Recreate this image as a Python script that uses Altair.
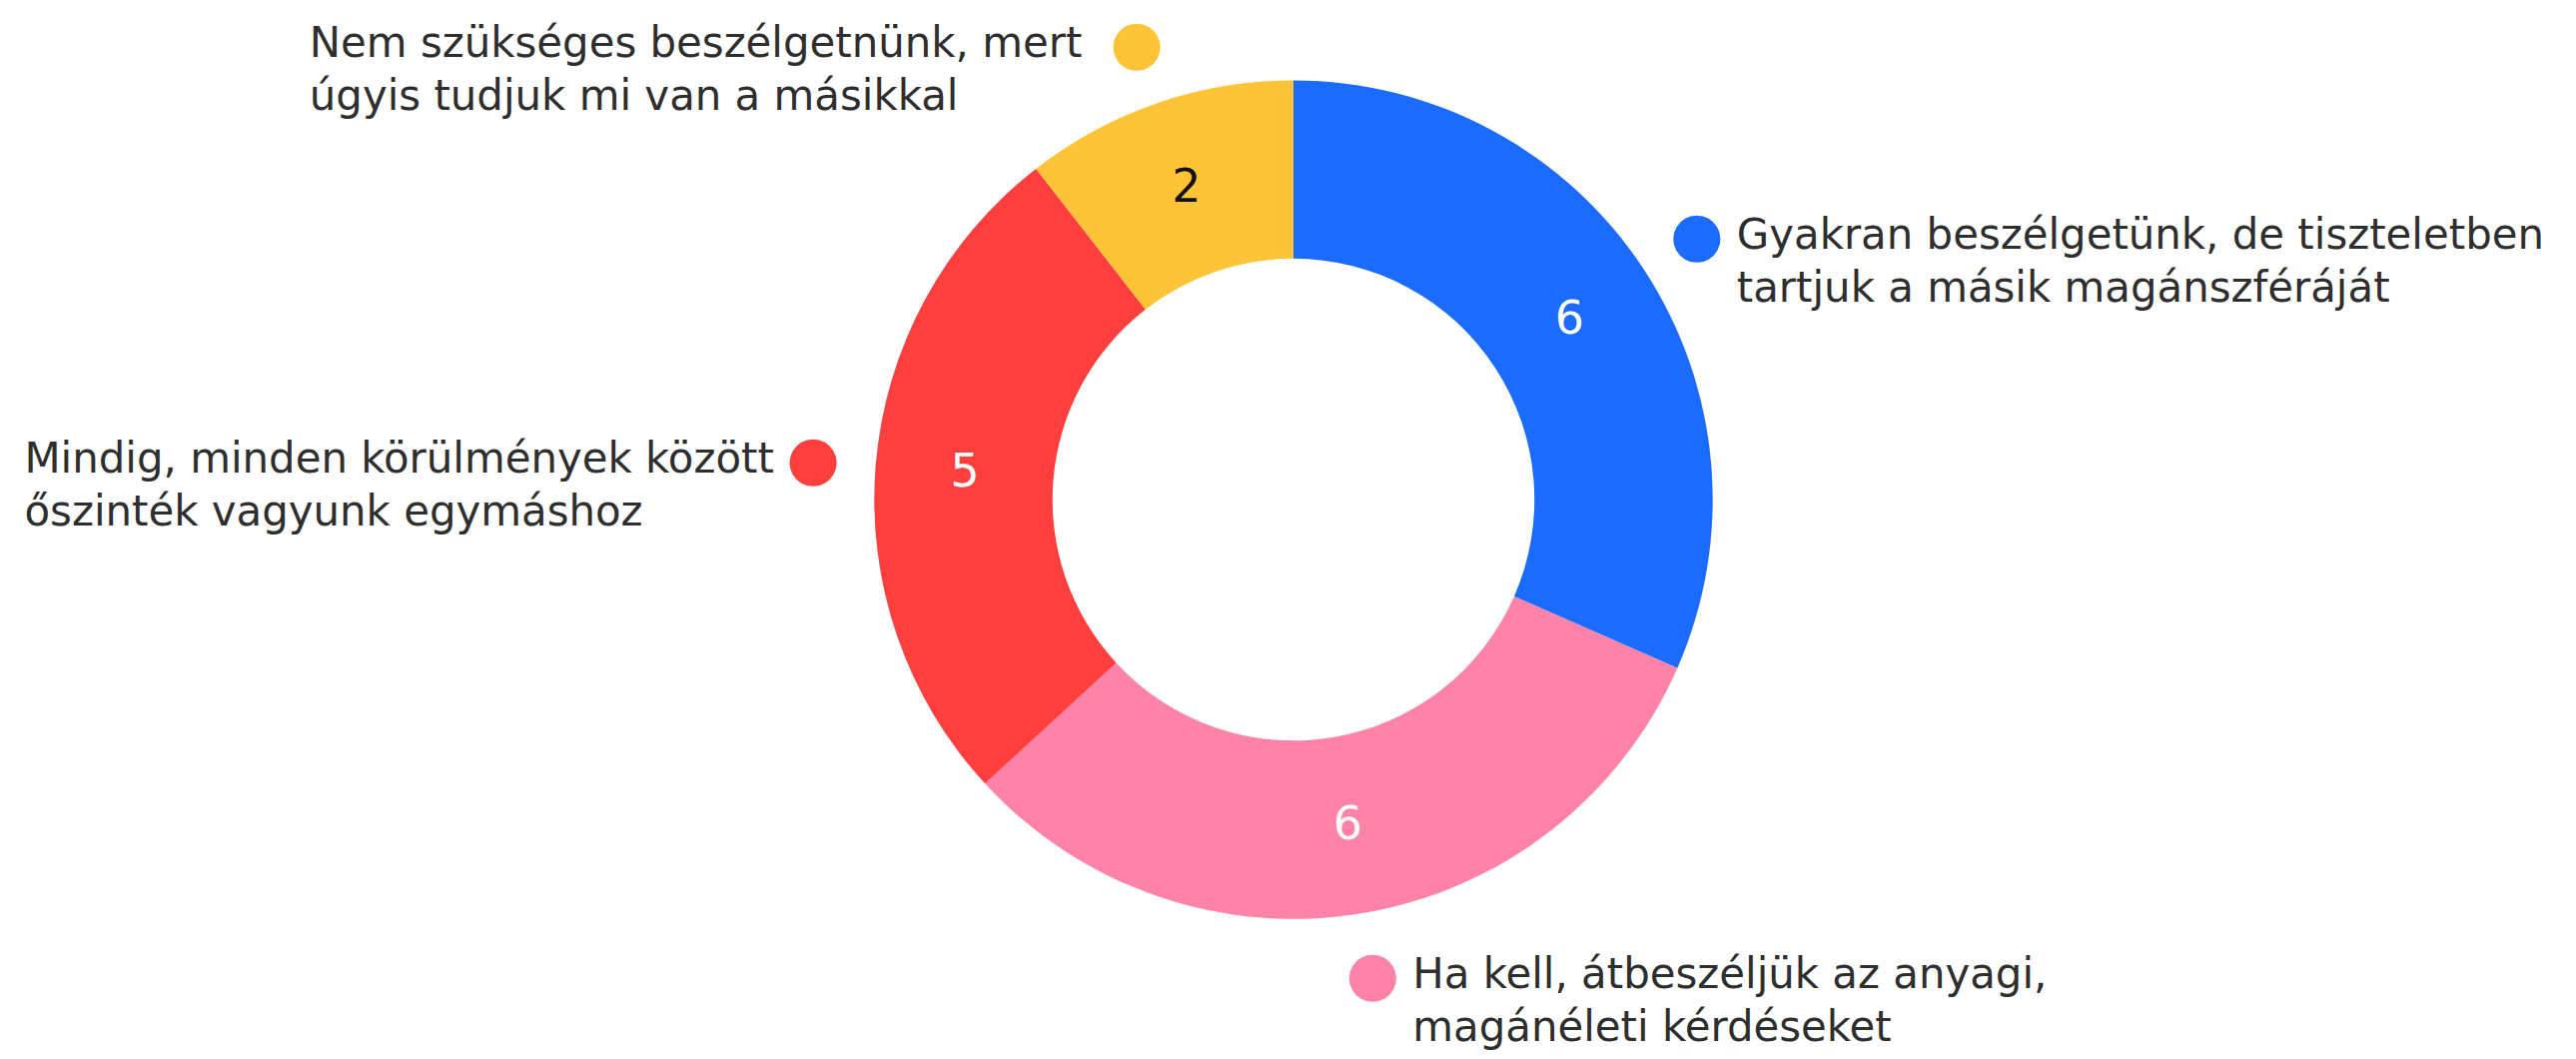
import altair as alt
import pandas as pd

categories = [
    "Gyakran beszélgetünk, de tiszteletben tartjuk a másik magánszféráját",
    "Ha kell, átbeszéljük az anyagi, magánéleti kérdéseket",
    "Mindig, minden körülmények között őszinték vagyunk egymáshoz",
    "Nem szükséges beszélgetnünk, mert úgyis tudjuk mi van a másikkal",
]
line1 = [
    "Gyakran beszélgetünk, de tiszteletben",
    "Ha kell, átbeszéljük az anyagi,",
    "Mindig, minden körülmények között",
    "Nem szükséges beszélgetnünk, mert",
]
line2 = [
    "tartjuk a másik magánszféráját",
    "magánéleti kérdéseket",
    "őszinték vagyunk egymáshoz",
    "úgyis tudjuk mi van a másikkal",
]
values = [6, 6, 5, 2]
colors = ["#1C6BFF", "#FF82A9", "#FF3F3D", "#FFC338"]

df = pd.DataFrame({
    "cat": categories,
    "l1": line1,
    "l2": line2,
    "value": values,
    "idx": list(range(len(values))),
})

FONT = "DejaVu Sans"
TEXT_COLOR = "#2e2e2e"
theta_scale = alt.Scale(domain=[0, sum(values)])
color_scale = alt.Scale(domain=categories, range=colors)

base = (
    alt.Chart(df)
    .transform_joinaggregate(total="sum(value)")
    .transform_window(cum="sum(value)", sort=[alt.SortField("idx", order="ascending")], frame=[None, 0])
    .transform_calculate(mid="datum.cum - datum.value / 2")
)

arcs = alt.Chart(df).mark_arc(outerRadius=421, innerRadius=242).encode(
    theta=alt.Theta("value:Q", stack=True, scale=theta_scale),
    color=alt.Color("cat:N", scale=color_scale, legend=None),
    order=alt.Order("idx:Q"),
)

theta_mid = alt.Theta("mid:Q", stack=False, scale=theta_scale)

numbers = base.mark_text(radius=331, fontSize=46, font=FONT, baseline="middle", align="center").encode(
    theta=theta_mid,
    text="value:Q",
    color=alt.condition("datum.idx == 3", alt.value("#111111"), alt.value("#ffffff")),
)

dots = base.mark_text(radius=484, fontSize=62, font="DejaVu Sans", baseline="middle", align="center").encode(
    theta=theta_mid,
    text=alt.value("●"),
    color=alt.Color("cat:N", scale=color_scale, legend=None),
)

right = base.transform_filter("datum.mid < datum.total / 2")
left = base.transform_filter("datum.mid >= datum.total / 2")

txt_kw = dict(radius=484, fontSize=42, font=FONT, baseline="middle", color=TEXT_COLOR)
# left-side label blocks: lines left-aligned, first line ending just before the dot
# (approximate first-line width: wide chars vs narrow chars)
left_dx = alt.expr(
    "-(54 + 26.7 * length(datum.l1) - 13 * length(replace(datum.l1, regexp('[^iltjfr,. ]', 'g'), '')))"
)

r1 = right.mark_text(align="left", dx=40, **txt_kw).encode(theta=theta_mid, text="l1:N")
r2 = right.mark_text(align="left", dx=40, dy=53, **txt_kw).encode(theta=theta_mid, text="l2:N")
l1 = left.mark_text(align="left", dx=left_dx, **txt_kw).encode(theta=theta_mid, text="l1:N")
l2 = left.mark_text(align="left", dx=left_dx, dy=53, **txt_kw).encode(theta=theta_mid, text="l2:N")

chart = (
    alt.layer(arcs, numbers, dots, r1, r2, l1, l2)
    .properties(
        width=2560,
        height=984,
        autosize=alt.AutoSizeParams(type="none"),
        padding={"left": 11, "top": 0, "right": 0, "bottom": 60},
        background="#ffffff",
    )
    .configure_view(strokeWidth=0)
)

chart.save("out.html", embed_options={"renderer": "svg", "actions": False})
